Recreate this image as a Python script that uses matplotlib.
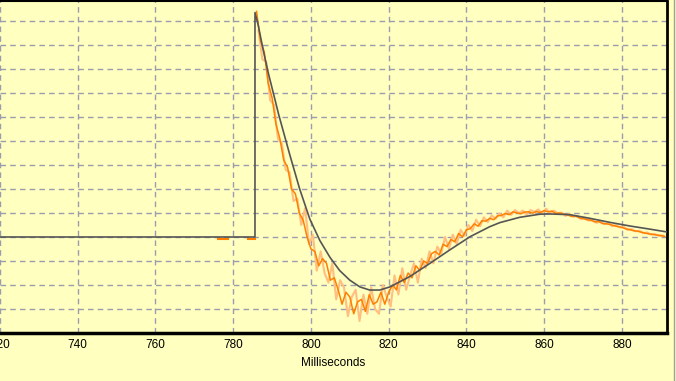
import numpy as np
import matplotlib.pyplot as plt
from matplotlib.lines import Line2D

plt.rcParams['font.family'] = ['Liberation Sans', 'DejaVu Sans']

# model response (smooth), ms / grid units
model_t = [720, 785.6, 785.6, 786.4, 787.7, 789.0, 790.7, 791.7, 794.6, 797.1,
           799.7, 802.3, 804.9, 807.4, 810.0, 812.6, 815.1, 817.7, 820.3, 825.4,
           830.6, 835.7, 840.9, 846.0, 848.6, 853.7, 858.9, 861.4, 866.6, 871.7,
           876.9, 882.0, 887.1, 891.6]
model_v = [0, 0, 9.35, 8.85, 7.8, 6.85, 5.75, 5.1, 3.4, 2.0,
           0.75, -0.15, -0.85, -1.4, -1.8, -2.08, -2.21, -2.21, -2.08, -1.65,
           -1.1, -0.54, 0.01, 0.43, 0.6, 0.82, 0.95, 0.96, 0.93, 0.78,
           0.61, 0.46, 0.33, 0.21]

# measured signal, dark samples (every 1 ms from 786)
meas_dark = [9.4, 8.2, 7.7, 6.4, 5.8, 4.7, 4.1, 3.2, 2.9, 2.0,
             1.8, 1.0, 0.7, 0.0, -0.5, -0.6, -1.2, -0.9, -1.1, -1.8,
             -1.7, -2.2, -2.8, -2.3, -2.5, -3.2, -2.7, -2.6, -3.1, -2.4,
             -2.8, -2.7, -2.3, -2.8, -2.3, -2.0, -2.2, -1.6, -1.9, -1.5,
             -1.7, -1.2, -1.4, -1.0, -1.1, -0.7, -0.6, -0.75, -0.3, -0.4,
             -0.1, -0.2, 0.15, 0.0, 0.3, 0.35, 0.55, 0.45, 0.68, 0.66,
             0.78, 0.72, 0.88, 0.9, 0.98, 0.93, 1.05, 1.0, 0.97, 1.04,
             1.05, 0.99, 1.06, 1.02, 1.1, 1.05, 1.08, 0.98, 1.0, 0.96,
             0.92, 0.86, 0.88, 0.8, 0.77, 0.72, 0.7, 0.63, 0.65, 0.56,
             0.55, 0.52, 0.47, 0.43, 0.4, 0.34, 0.31, 0.26, 0.24, 0.2,
             0.16, 0.13, 0.11, 0.08, 0.06, 0.03]

# measured signal, light samples (every 1 ms from 786.5)
meas_light = [8.6, 7.4, 7.3, 5.7, 5.5, 4.1, 3.9, 2.8, 2.7, 1.5,
              1.6, 0.5, 1.2, -0.3, 0.1, -1.4, -0.6, -1.5, -1.9, -1.1,
              -2.6, -1.8, -2.1, -3.3, -2.5, -2.2, -3.5, -2.4, -3.2, -2.1,
              -3.0, -3.2, -2.0, -2.5, -2.9, -1.6, -2.4, -1.3, -2.2, -1.6,
              -1.1, -1.9, -0.9, -1.3, -0.6, -1.1, -0.4, -0.7, 0.0, -0.5,
              0.1, -0.3, 0.3, 0.05, 0.5, 0.25, 0.72, 0.45, 0.82, 0.62,
              0.9, 0.76, 0.98, 0.82, 1.1, 0.92, 1.12, 1.0, 1.1, 0.93,
              1.12, 1.05, 1.15, 0.98, 1.18, 1.0, 1.1, 0.99, 1.02, 0.88,
              0.96, 0.84, 0.88, 0.74, 0.8, 0.68, 0.72, 0.59, 0.66, 0.54,
              0.58, 0.45, 0.5, 0.4, 0.42, 0.29, 0.33, 0.24, 0.26, 0.16,
              0.19, 0.1, 0.12, 0.05, 0.06]

# short bits of measured signal before the step
pre_t = [776.0, 778.6, np.nan, 783.8, 785.6]
pre_v = [-0.08, -0.08, np.nan, -0.08, -0.08]

xticks = [720, 740, 760, 780, 800, 820, 840, 860, 880]

t_dark = 786 + np.arange(len(meas_dark))
t_light = 786.5 + np.arange(len(meas_light))

bg = '#ffffc0'
fig = plt.figure(figsize=(6.76, 3.81), dpi=100, facecolor=bg)
ax = fig.add_axes([0.0, 48/381, 667/676, 332/381], facecolor=bg)

ax.plot(t_light, meas_light, color='#ffbf80', lw=1.5, zorder=2)
ax.plot(t_dark, meas_dark, color='#ff8000', lw=1.1, zorder=3)
ax.plot(pre_t, pre_v, color='#ff8000', lw=1.5, zorder=3)
ax.plot(model_t, model_v, color='#555555', lw=1.2, zorder=4)

ax.set_xlim(720, 891.6)
ax.set_ylim(-4.0, 236/24)
ax.set_xticks(xticks)
ax.set_yticks(np.arange(-3, 10))
ax.set_yticklabels([])
ax.tick_params(axis='both', length=0, labelsize=8.5, pad=4)
ax.grid(True, color='#9c9cae', linestyle=(0, (4, 3)), lw=1)
ax.set_axisbelow(True)

ax.spines['left'].set_visible(False)
ax.spines['top'].set_linewidth(1.5)
ax.spines['right'].set_linewidth(2)
ax.spines['bottom'].set_linewidth(2.5)
for s in ['top', 'right', 'bottom']:
    ax.spines[s].set_color('black')

ax.set_xlabel('Milliseconds', fontsize=8.5, labelpad=5)

fig.add_artist(Line2D([673.5/676, 673.5/676], [0, 1], color='#a0a0a0', lw=1))

fig.savefig('out.png', dpi=100, facecolor=bg)
